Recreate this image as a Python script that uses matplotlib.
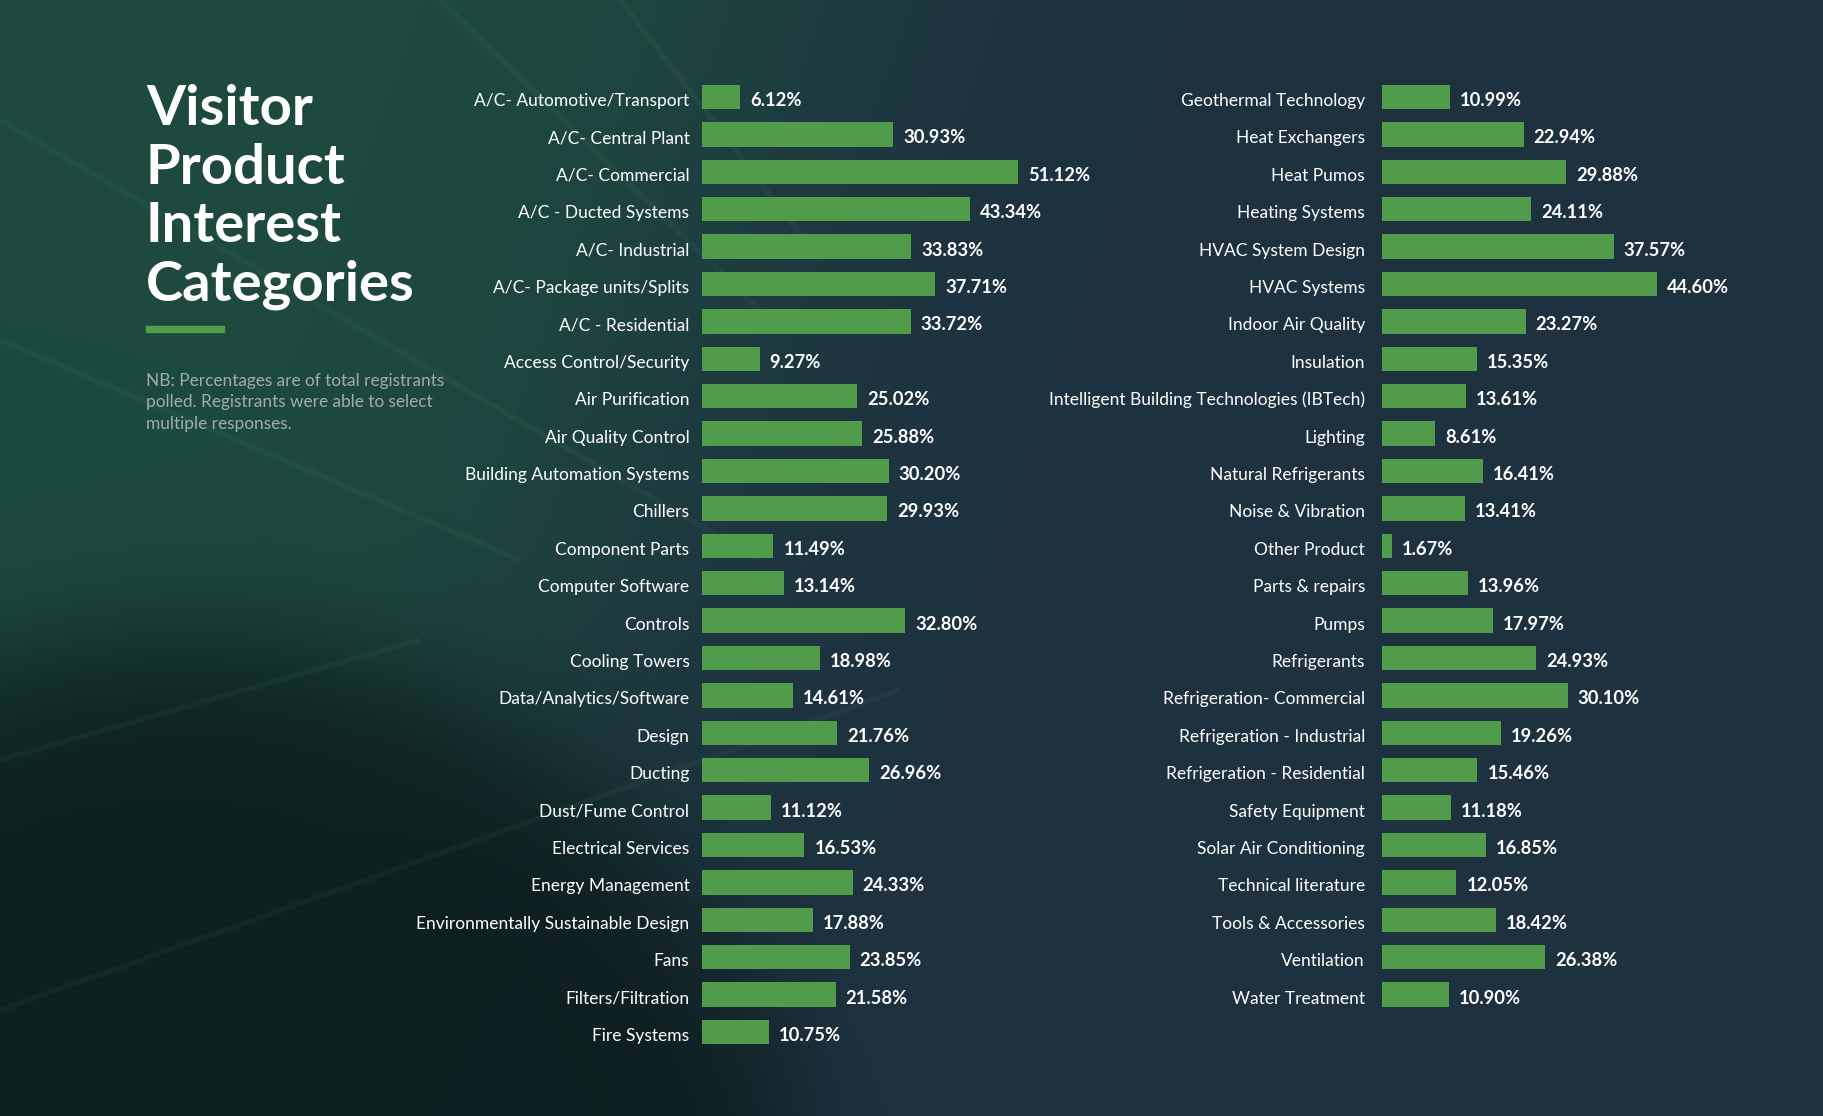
import numpy as np
import matplotlib
matplotlib.use("Agg")
import matplotlib.pyplot as plt
from matplotlib.patches import Rectangle

# ---------------- data ----------------
left_categories = [
    "A/C- Automotive/Transport", "A/C- Central Plant", "A/C- Commercial",
    "A/C - Ducted Systems", "A/C- Industrial", "A/C- Package units/Splits",
    "A/C - Residential", "Access Control/Security", "Air Purification",
    "Air Quality Control", "Building Automation Systems", "Chillers",
    "Component Parts", "Computer Software", "Controls", "Cooling Towers",
    "Data/Analytics/Software", "Design", "Ducting", "Dust/Fume Control",
    "Electrical Services", "Energy Management",
    "Environmentally Sustainable Design", "Fans", "Filters/Filtration",
    "Fire Systems",
]
left_values = [
    6.12, 30.93, 51.12, 43.34, 33.83, 37.71, 33.72, 9.27, 25.02, 25.88,
    30.20, 29.93, 11.49, 13.14, 32.80, 18.98, 14.61, 21.76, 26.96, 11.12,
    16.53, 24.33, 17.88, 23.85, 21.58, 10.75,
]
right_categories = [
    "Geothermal Technology", "Heat Exchangers", "Heat Pumos", "Heating Systems",
    "HVAC System Design", "HVAC Systems", "Indoor Air Quality", "Insulation",
    "Intelligent Building Technologies (IBTech)", "Lighting",
    "Natural Refrigerants", "Noise & Vibration", "Other Product",
    "Parts & repairs", "Pumps", "Refrigerants", "Refrigeration- Commercial",
    "Refrigeration - Industrial", "Refrigeration - Residential",
    "Safety Equipment", "Solar Air Conditioning", "Technical literature",
    "Tools & Accessories", "Ventilation", "Water Treatment",
]
right_values = [
    10.99, 22.94, 29.88, 24.11, 37.57, 44.60, 23.27, 15.35, 13.61, 8.61,
    16.41, 13.41, 1.67, 13.96, 17.97, 24.93, 30.10, 19.26, 15.46, 11.18,
    16.85, 12.05, 18.42, 26.38, 10.90,
]
title_lines = ["Visitor", "Product", "Interest", "Categories"]
note_lines = [
    "NB: Percentages are of total registrants",
    "polled. Registrants were able to select",
    "multiple responses.",
]

# ---------------- style ----------------
W, H, DPI = 1824, 1116, 100
BAR = "#519c4a"
FONT = "Lato"
PT = 72.0 / DPI  # points per pixel

fig = plt.figure(figsize=(W / DPI, H / DPI), dpi=DPI)

# background (decorative gradient)
bg = fig.add_axes([0, 0, 1, 1])
bg.set_xlim(0, W)
bg.set_ylim(H, 0)
bg.axis("off")
xx, yy = np.meshgrid(np.arange(W, dtype=float), np.arange(H, dtype=float))
navy = np.array([30, 49, 64]) / 255.0
green = np.array([29, 74, 63]) / 255.0
dark = np.array([11, 27, 27]) / 255.0
wg = 1.0 / (1.0 + np.exp(-(800 - xx - 0.35 * yy) / 120.0))
dist = np.hypot(xx - 180, yy - 1260)
wd = 0.85 / (1.0 + np.exp(-(620 - dist) / 40.0))
img = navy * (1 - wg[..., None]) + green * wg[..., None]
img = img * (1 - wd[..., None]) + dark * wd[..., None]
bg.imshow(img, extent=(0, W, H, 0), aspect="auto", zorder=0, interpolation="bilinear")
streaks = [((0, 120), (760, 560)), ((0, 340), (520, 560)), ((440, 0), (780, 330)),
           ((0, 1010), (900, 690)), ((620, 0), (820, 260)), ((0, 760), (420, 640))]
for (xa, ya), (xb, yb) in streaks:
    bg.plot([xa, xb], [ya, yb], color="#7fd0a0", alpha=0.05, lw=4, zorder=1,
            solid_capstyle="butt")

# title, underline, note
for i, line in enumerate(title_lines):
    bg.text(146, 125 + 58.6 * i, line, fontsize=40.5, fontweight="bold", color="white",
            va="baseline", ha="left", family=FONT, zorder=3)
bg.add_patch(Rectangle((146, 326), 78, 6, color=BAR, zorder=3))
for i, line in enumerate(note_lines):
    bg.text(146, 386 + 21.3 * i, line, fontsize=12.4, color="#a2abb0",
            va="baseline", ha="left", family=FONT, zorder=3)

# bar panels
PX = 6.17      # pixels per percent
ROW = 37.4     # row pitch in pixels
Y0 = 97.0      # centre of first row in pixels


def panel(x0, width, cats, vals, label_gap):
    n = len(cats)
    top = Y0 - ROW / 2
    height = n * ROW
    ax = fig.add_axes([x0 / W, 1 - (top + height) / H, width / W, height / H])
    ax.set_xlim(0, width / PX)
    ax.set_ylim(n - 0.5, -0.5)
    ax.axis("off")
    ax.patch.set_alpha(0)
    ax.barh(np.arange(n), vals, height=0.65, color=BAR, zorder=2)
    for i, (c, v) in enumerate(zip(cats, vals)):
        ax.annotate(c, xy=(0, i), xytext=(-label_gap * PT, -9 * PT),
                    textcoords="offset points", ha="right", va="baseline",
                    color="white", fontsize=12.5, family=FONT)
        ax.annotate(f"{v:.2f}%", xy=(v, i), xytext=(10 * PT, -9 * PT),
                    textcoords="offset points", ha="left", va="baseline",
                    color="white", fontsize=13.2, fontweight="bold", family=FONT)
    return ax


panel(702.5, 560, left_categories, left_values, 13)
panel(1382, 400, right_categories, right_values, 17)

fig.savefig("out.png", dpi=DPI)
